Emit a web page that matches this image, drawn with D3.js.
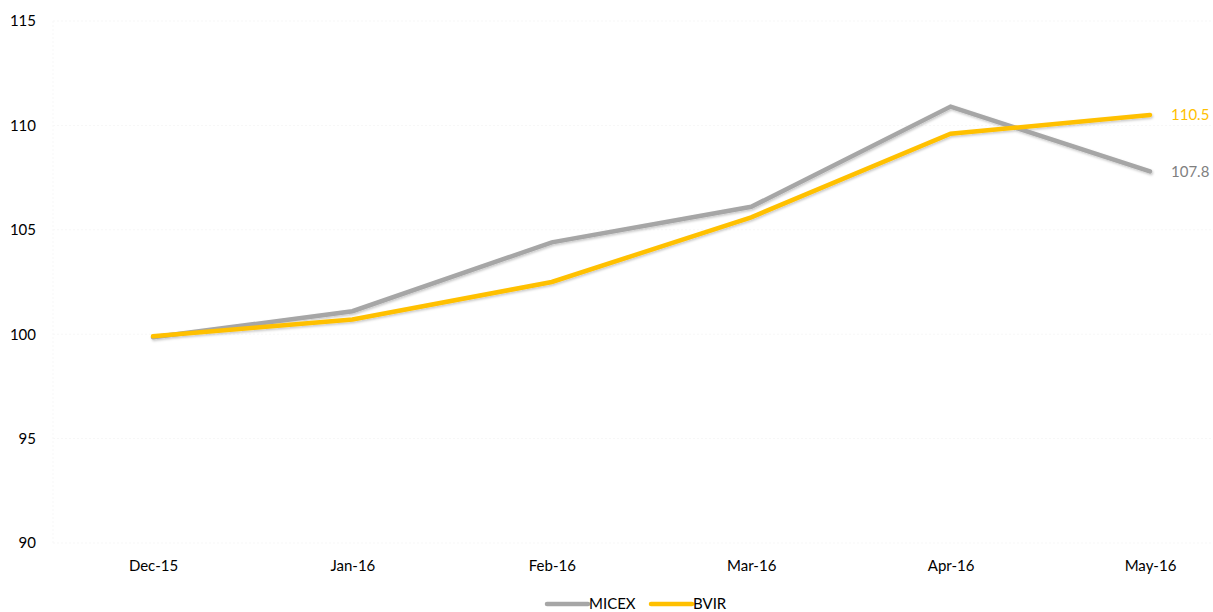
<!DOCTYPE html>
<html>
<head>
<meta charset="utf-8">
<script src="https://cdn.jsdelivr.net/npm/d3@7"></script>
<style>
  html, body { margin: 0; padding: 0; background: #fff; }
  svg { display: block; font-family: Lato, "Open Sans", sans-serif; }
</style>
</head>
<body>
<svg id="chart" width="1213" height="612"></svg>
<script>
// Monthly index values, Dec-15 = 100
const months = ["Dec-15", "Jan-16", "Feb-16", "Mar-16", "Apr-16", "May-16"];
const micex = [99.85, 101.1, 104.4, 106.1, 110.9, 107.8];
const bvir = [99.9, 100.7, 102.5, 105.6, 109.6, 110.5];
const yTicks = [90, 95, 100, 105, 110, 115];

const series = [
  { name: "MICEX", values: micex, color: "#a6a6a6", labelColor: "#7f7f7f" },
  { name: "BVIR", values: bvir, color: "#ffc000", labelColor: "#ffc000" }
];

const FONT = "Lato, 'Open Sans', sans-serif";
const FS = 15;

const svg = d3.select("#chart");

const x = d3.scalePoint().domain(months).range([153, 1150]);
const y = d3.scaleLinear().domain([90, 115]).range([543, 21]);

const defs = svg.append("defs");
const shadow = defs.append("filter").attr("id", "shadow")
  .attr("x", "-5%").attr("y", "-20%").attr("width", "110%").attr("height", "140%");
shadow.append("feDropShadow")
  .attr("dx", 1).attr("dy", 1.5).attr("stdDeviation", 1.2)
  .attr("flood-color", "#000").attr("flood-opacity", 0.22);

// faint plot-area frame and gridlines
const grid = svg.append("g");
grid.selectAll("line.h").data(yTicks).join("line")
  .attr("x1", 53).attr("x2", 1213)
  .attr("y1", d => y(d)).attr("y2", d => y(d))
  .attr("stroke", "#f7f7f7").attr("stroke-dasharray", "2,2");
grid.append("line").attr("x1", 53).attr("x2", 53).attr("y1", y(115)).attr("y2", y(90))
  .attr("stroke", "#f7f7f7").attr("stroke-dasharray", "2,2");

// y axis labels
const yAxis = svg.append("g").attr("transform", "translate(36,0)")
  .call(d3.axisLeft(y).tickValues(yTicks).tickSize(0).tickPadding(0));
yAxis.select(".domain").remove();
yAxis.selectAll("text").attr("font-size", FS).attr("fill", "#000")
  .attr("font-family", FONT);

// x axis labels
const xAxis = svg.append("g").attr("transform", "translate(0,560)")
  .call(d3.axisBottom(x).tickSize(0).tickPadding(0));
xAxis.select(".domain").remove();
xAxis.selectAll("text").attr("font-size", FS).attr("fill", "#000")
  .attr("font-family", FONT);

const line = d3.line().x((d, i) => x(months[i])).y(d => y(d));

svg.append("g").attr("filter", "url(#shadow)")
  .selectAll("path").data(series).join("path")
  .attr("d", d => line(d.values))
  .attr("fill", "none")
  .attr("stroke", d => d.color)
  .attr("stroke-width", 4.5)
  .attr("stroke-linejoin", "miter")
  .attr("stroke-linecap", "round");

// end labels
svg.append("g").selectAll("text").data(series).join("text")
  .attr("x", x(months[months.length - 1]) + 21)
  .attr("y", d => y(d.values[d.values.length - 1]))
  .attr("dy", "0.35em")
  .attr("font-size", FS)
  .attr("fill", d => d.labelColor)
  .text(d => d.values[d.values.length - 1].toFixed(1));

// legend
const legend = svg.append("g").attr("transform", "translate(547,604)");
const items = legend.selectAll("g").data(series).join("g")
  .attr("transform", (d, i) => `translate(${i * 104},0)`);
items.append("line").attr("x1", 0).attr("x2", 41).attr("y1", 0).attr("y2", 0)
  .attr("stroke", d => d.color).attr("stroke-width", 4.5).attr("stroke-linecap", "round");
items.append("text").attr("x", 42).attr("dy", "0.35em")
  .attr("font-size", FS).attr("fill", "#000").text(d => d.name);
</script>
</body>
</html>
